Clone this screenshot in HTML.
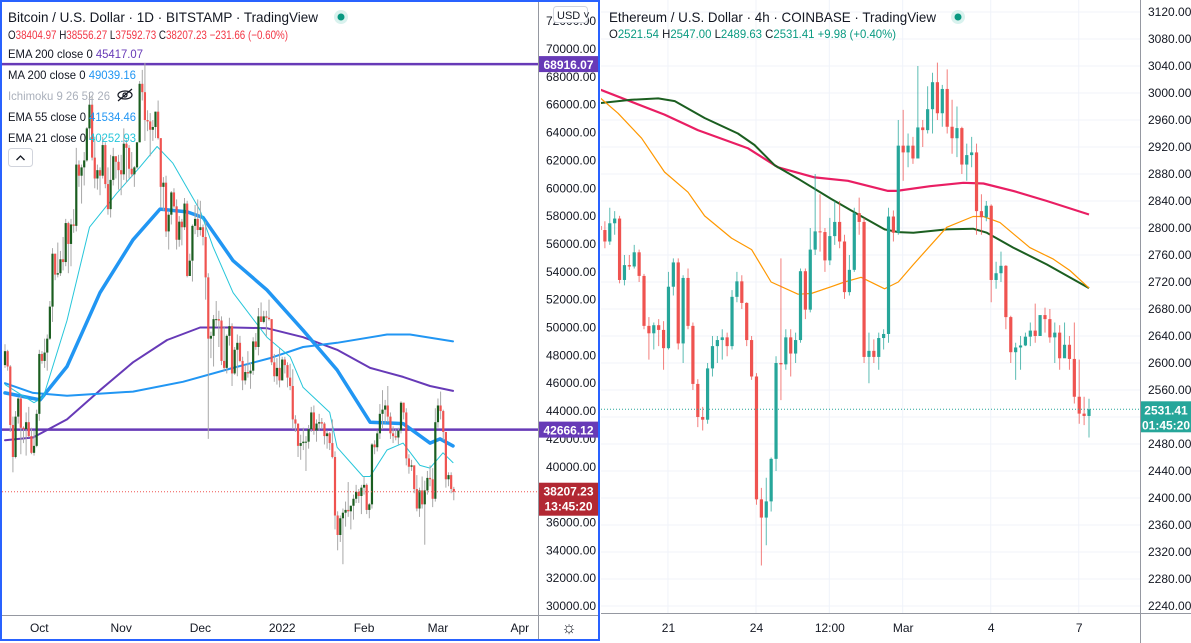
<!DOCTYPE html>
<html><head><meta charset="utf-8"><style>
html,body{margin:0;padding:0;background:#fff;width:1191px;height:643px;overflow:hidden}
svg{display:block;font-family:"Liberation Sans",sans-serif}
</style></head><body>
<svg id="root" width="1191" height="643" viewBox="0 0 1191 643" xmlns="http://www.w3.org/2000/svg">
<rect x="0" y="0" width="1191" height="643" fill="#fff"/>
<defs>
<clipPath id="clipL"><rect x="2" y="2" width="536" height="613"/></clipPath>
<clipPath id="clipR"><rect x="601" y="0" width="539" height="613"/></clipPath>
</defs>
<g id="gridR"></g>
<g id="plotL" clip-path="url(#clipL)"></g>
<g id="plotR" clip-path="url(#clipR)"></g>
<g id="axes"></g>

<g font-size="12">
<text x="8" y="22" font-size="14" fill="#131722" textLength="310" lengthAdjust="spacingAndGlyphs">Bitcoin / U.S. Dollar · 1D · BITSTAMP · TradingView</text>
<circle cx="341" cy="17" r="7" fill="#d9f2ee"/>
<circle cx="341" cy="17" r="3.5" fill="#089981"/>
<text x="8" y="39" font-size="12" fill="#f23645" textLength="280" lengthAdjust="spacingAndGlyphs"><tspan fill="#131722">O</tspan>38404.97 <tspan fill="#131722">H</tspan>38556.27 <tspan fill="#131722">L</tspan>37592.73 <tspan fill="#131722">C</tspan>38207.23 −231.66 (−0.60%)</text>
<text x="8" y="58" fill="#131722" textLength="135" lengthAdjust="spacingAndGlyphs">EMA 200 close 0 <tspan fill="#673ab7">45417.07</tspan></text>
<text x="8" y="79" fill="#131722" textLength="128" lengthAdjust="spacingAndGlyphs">MA 200 close 0 <tspan fill="#2196f3">49039.16</tspan></text>
<text x="8" y="100" fill="#aab0bb" textLength="102" lengthAdjust="spacingAndGlyphs">Ichimoku 9 26 52 26</text>
<g stroke="#131722" fill="none" stroke-width="1.2"><ellipse cx="125" cy="95" rx="7" ry="4"/><circle cx="125" cy="95" r="2"/><line x1="118" y1="101" x2="132" y2="89"/></g>
<text x="8" y="121" fill="#131722" textLength="128" lengthAdjust="spacingAndGlyphs">EMA 55 close 0 <tspan fill="#2196f3">41534.46</tspan></text>
<text x="8" y="142" fill="#131722" textLength="128" lengthAdjust="spacingAndGlyphs">EMA 21 close 0 <tspan fill="#26c6da">40252.93</tspan></text>
<rect x="8.5" y="148.5" width="24" height="18" rx="3" fill="#fff" stroke="#d1d4dc"/>
<path d="M16.5 160 L20.5 156 L24.5 160" stroke="#131722" fill="none" stroke-width="1.3"/>
</g>

<g>
<text x="609" y="22" font-size="14" fill="#131722" textLength="327" lengthAdjust="spacingAndGlyphs">Ethereum / U.S. Dollar · 4h · COINBASE · TradingView</text>
<circle cx="958" cy="17" r="7" fill="#d9f2ee"/>
<circle cx="958" cy="17" r="3.5" fill="#089981"/>
<text x="609" y="38" font-size="12" fill="#089981" textLength="287" lengthAdjust="spacingAndGlyphs"><tspan fill="#131722">O</tspan>2521.54 <tspan fill="#131722">H</tspan>2547.00 <tspan fill="#131722">L</tspan>2489.63 <tspan fill="#131722">C</tspan>2531.41 +9.98 (+0.40%)</text>
</g>

<rect x="1" y="1" width="598" height="639" fill="none" stroke="#2962ff" stroke-width="2"/>
</svg>
<script>
// ---------------- BTC data (thousands USD, daily, Sep 18 2021 .. Mar 7 2022) ----------------
const btcFirstOpen = 47.3;
const btcClose = [48.3,47.2,43.0,40.7,43.6,44.9,42.8,42.7,43.2,42.2,41.0,41.5,43.8,
48.1,47.6,48.2,49.2,51.5,55.3,53.8,53.9,54.9,54.7,57.5,56.0,57.4,57.3,61.7,60.9,61.5,62.0,64.3,66.0,62.2,60.7,61.3,60.9,63.1,60.3,58.5,60.6,62.3,61.9,61.3,
61.0,63.2,62.9,61.4,61.0,61.5,63.3,67.5,66.9,64.9,64.8,64.2,64.4,65.5,63.6,60.1,60.4,56.9,58.1,59.7,58.7,56.3,57.6,57.2,58.9,53.7,54.8,57.3,57.8,57.0,
57.2,56.5,53.6,49.2,49.4,50.6,50.6,50.5,47.6,47.1,49.4,50.1,46.7,48.4,48.9,47.6,46.2,46.8,46.7,46.9,49.0,48.6,50.8,50.4,50.8,50.7,50.6,47.5,46.5,47.1,46.2,
47.7,47.3,46.4,45.8,43.4,43.1,41.5,41.7,41.8,41.8,42.7,43.9,42.6,43.1,43.2,43.1,42.2,42.4,41.7,40.7,36.5,35.1,36.3,36.7,36.9,36.8,37.2,37.7,38.2,37.9,38.5,
38.7,36.9,37.3,41.6,41.4,42.4,43.8,44.1,44.4,43.6,42.4,42.2,42.1,42.6,44.6,43.9,40.6,40.0,40.1,38.4,37.0,38.3,37.3,38.3,39.2,39.1,37.7,43.2,
44.4,44.0,42.5,39.1,39.4,38.405,38.207];
const btcHigh = [48.8,48.4,47.3,43.6,44.0,45.0,45.1,42.9,43.9,44.3,42.8,42.6,44.1,
48.4,48.3,49.2,49.5,51.9,55.7,55.3,56.1,55.5,56.5,57.8,57.6,57.8,58.5,62.9,62.0,61.7,62.6,64.4,66.9,66.6,63.7,61.7,61.5,63.7,63.3,61.5,62.4,62.9,62.3,62.4,
62.4,64.3,63.5,63.1,62.6,61.6,63.3,67.7,68.5,69.0,65.6,65.4,64.9,65.5,66.3,63.5,60.8,60.9,58.3,59.8,60.0,59.2,58.0,57.8,59.3,59.1,55.3,57.4,58.8,59.2,
59.1,57.4,57.6,53.9,49.7,50.9,51.9,51.2,50.8,50.1,49.5,50.7,50.3,48.6,49.5,49.4,47.9,47.3,48.3,47.5,49.3,49.6,51.4,51.8,51.2,51.2,52.0,50.6,48.1,47.8,48.5,
47.9,47.9,47.5,47.4,47.0,43.7,43.1,42.3,42.8,42.2,43.0,44.3,44.4,43.4,43.8,43.5,43.2,42.6,42.5,43.4,41.1,36.8,36.5,37.0,37.5,38.9,37.2,38.0,38.7,38.4,38.7,
39.3,38.8,37.4,41.7,41.9,42.6,44.5,45.5,44.8,45.8,43.9,42.9,42.7,42.8,44.7,44.6,44.2,40.9,40.5,40.1,39.4,38.5,39.3,39.0,39.7,40.1,39.9,44.2,
44.9,45.4,44.1,42.5,39.6,39.6,38.556];
const btcLow = [47.1,46.9,42.5,39.6,40.6,43.1,40.9,41.7,40.8,42.1,40.9,40.8,41.4,
43.3,47.4,47.1,46.9,49.1,50.4,53.4,53.6,53.7,54.1,54.4,53.9,54.4,56.8,56.9,60.1,58.9,60.2,61.9,63.5,62.0,60.0,59.9,59.5,60.7,60.0,58.1,57.9,60.2,60.7,59.9,
59.5,60.6,60.4,60.7,60.8,60.1,61.4,63.3,66.3,63.4,64.1,62.3,63.4,63.6,63.5,58.6,58.4,56.5,55.6,57.4,58.6,55.6,55.8,55.9,57.0,53.6,53.7,53.3,56.7,56.5,
56.6,55.9,52.0,42.0,47.8,47.2,50.1,48.6,47.3,46.9,46.7,48.7,45.8,46.6,46.5,47.5,45.5,45.9,46.4,45.6,46.6,48.4,48.0,50.4,50.3,49.4,50.5,47.3,46.1,45.9,45.7,
46.2,46.7,45.7,45.5,42.7,42.5,40.7,40.5,41.2,39.7,41.3,42.5,42.3,41.8,42.6,42.7,41.6,41.3,41.2,40.6,35.5,34.0,34.6,33.0,35.7,36.4,35.5,36.2,37.4,37.4,36.6,
38.0,36.6,36.3,37.0,40.9,41.1,42.0,42.7,43.1,43.2,42.0,41.7,41.9,41.6,42.4,43.4,40.1,39.5,39.7,38.1,36.8,36.4,37.0,34.4,38.0,38.6,37.1,37.5,
42.8,43.4,41.9,38.5,38.6,38.1,37.593];
// indicator readings: [dayIndex, value in thousands]
const btcEma21 = [[0,45.9],[11,44.6],[14.5,45.0],[23.5,50.5],[32,57.2],[42.4,59.65],[51,61.5],[57.6,63.0],[63.6,61.8],[73.9,58.4],[78.8,55.8],[86.4,52.5],[99.2,49.3],[108,47.9],[112.9,45.7],[123,43.9],[125.8,41.4],[135.6,39.3],[138.3,39.3],[144.7,41.2],[150.8,41.7],[157.2,40.1],[161,39.9],[165.9,41.0],[169.7,40.3]];
const btcEma55 = [[0,45.3],[13.3,44.8],[23.5,47.2],[36,52.5],[48.5,56.3],[58.7,58.5],[69,58.3],[75,57.9],[86.4,54.8],[99.2,52.7],[112.9,49.8],[125.8,46.95],[138.3,43.2],[150.8,43.1],[161,41.7],[164.8,42.0],[169.7,41.5]];
const btcMa200 = [[0,46.0],[10.6,45.3],[23.5,45.1],[48.5,45.4],[67.4,46.1],[86.4,47.1],[100.4,47.8],[112.9,48.6],[125.8,48.9],[144.7,49.5],[153.4,49.5],[169.7,49.0]];
const btcEma200 = [[0,41.9],[10.6,42.1],[23.5,43.4],[36,45.5],[48.5,47.5],[61.4,49.1],[73.9,50.0],[86.4,50.0],[99.2,49.95],[112.9,49.3],[125.8,48.4],[138.3,47.1],[150.8,46.45],[161,45.8],[169.7,45.45]];
const btcTicks = [72000,70000,68000,66000,64000,62000,60000,58000,56000,54000,52000,50000,48000,46000,44000,42000,40000,38000,36000,34000,32000,30000];
const btcMonthLabels = ["Oct","Nov","Dec","2022","Feb","Mar","Apr"];
const btcMonthDays = [13,44,74,105,136,164,195];
const btcLines = [68916.07,42666.12];

// ---------------- ETH data (4h candles) ----------------
const ethFirstOpen = 2803;
const ethClose = [2797,2780,2807,2814,2723,2745,2743,2764,2729,2655,
2644,2656,2649,2622,2713,2749,2629,2726,2655,2569,
2520,2516,2592,2625,2634,2638,2625,2698,2721,2689,
2634,2580,2398,2371,2395,2458,2600,2598,2638,2614,
2634,2736,2679,2768,2795,2794,2752,2788,2809,2780,
2705,2738,2822,2809,2609,2618,2609,2637,2643,2817,
2793,2922,2912,2922,2903,2949,2945,2976,3016,2970,
3006,2950,2933,2948,2894,2908,2912,2825,2816,2833,
2723,2733,2744,2668,2616,2623,2626,2639,2648,2640,
2671,2665,2638,2645,2607,2627,2606,2550,2525,2521.54,2531.41];
const ethHigh = [2835,2810,2830,2825,2818,2760,2760,2775,2768,2732,
2668,2660,2665,2662,2735,2755,2755,2730,2740,2660,
2576,2535,2600,2640,2640,2650,2645,2708,2735,2730,
2690,2640,2585,2415,2430,2460,2610,2755,2650,2650,
2645,2740,2740,2800,2880,2850,2800,2815,2840,2840,
2790,2760,2830,2845,2815,2645,2635,2645,2650,2830,
2826,2960,2975,2940,2935,3040,2960,3010,3030,3045,
3012,3035,2990,2980,2950,2925,2935,2925,2850,2840,
2835,2750,2765,2745,2670,2630,2640,2645,2660,2688,
2662,2682,2680,2660,2656,2660,2640,2660,2605,2550,2547];
const ethLow = [2760,2770,2775,2790,2718,2715,2738,2740,2720,2650,
2605,2620,2625,2590,2620,2700,2620,2600,2650,2560,
2505,2500,2510,2580,2600,2605,2610,2620,2690,2680,
2625,2575,2390,2300,2330,2380,2440,2545,2590,2580,
2600,2630,2665,2675,2760,2765,2735,2745,2775,2770,
2695,2700,2735,2790,2600,2570,2600,2590,2620,2630,
2780,2790,2870,2890,2895,2905,2920,2940,2940,2960,
2950,2940,2910,2905,2880,2870,2890,2790,2790,2810,
2690,2710,2720,2650,2600,2575,2590,2625,2625,2630,
2640,2645,2630,2600,2590,2610,2590,2540,2510,2508,2489.63];
const ethMaFast = [[0,2993],[3.7,2970],[8.5,2933],[13.2,2883],[18,2853],[21.4,2818],[26.9,2785],[31,2768],[35,2720],[40.5,2702],[43.2,2703],[47.3,2713],[50,2720],[53.4,2727],[58.2,2710],[61,2720],[64.1,2746],[70.9,2801],[76.3,2817],[78.4,2817],[81.8,2808],[87.9,2771],[92.7,2754],[96.1,2737],[100,2711]];
const ethMaMid = [[0,2985],[6.4,2990],[11.9,2992],[15.3,2988],[21.4,2963],[28.2,2940],[31.6,2923],[35.7,2893],[40.5,2873],[47.3,2843],[52.8,2820],[58.2,2798],[61,2794],[64.1,2793],[70.9,2798],[76.3,2799],[79.1,2793],[84.5,2771],[91.4,2746],[100,2711]];
const ethMaSlow = [[0,3005],[13.2,2968],[20,2945],[30.3,2918],[36.4,2890],[43.9,2875],[50.7,2870],[58.9,2855],[60.7,2855],[67.5,2862],[74.3,2867],[78.4,2866],[84.5,2855],[91.4,2840],[100,2820]];
const ethTicks = [3120,3080,3040,3000,2960,2920,2880,2840,2800,2760,2720,2680,2640,2600,2560,2520,2480,2440,2400,2360,2320,2280,2240];
const ethTimeLabels = ["21","24","12:00","Mar","4","7"];
const ethTimeIdx = [14,32,47,62,80,98];

// ---------------- scales ----------------
const yL = p => 49 + (70000 - p) * 0.013925;
const xL = i => 5 + i * 2.64;
const yR = p => 12 + (3120 - p) * 0.675;
const xR = i => 600 + i * 4.89;
const NS = "http://www.w3.org/2000/svg";
function mk(tag, attrs, parent){ const e=document.createElementNS(NS,tag); for(const k in attrs) e.setAttribute(k,attrs[k]); parent.appendChild(e); return e; }
const plotL=document.getElementById('plotL'), plotR=document.getElementById('plotR'), axes=document.getElementById('axes'), gridR=document.getElementById('gridR');

// ---- ETH grid ----
ethTicks.forEach(t=>{ const g=mk('line',{x1:601,x2:1140,y1:yR(t),y2:yR(t),stroke:'#f0f3fa','stroke-width':1},gridR);

 });
ethTimeIdx.forEach(i=>{ const g=mk('line',{x1:xR(i)-0.5,x2:xR(i)-0.5,y1:0,y2:613,stroke:'#f0f3fa','stroke-width':1},gridR);

 });

// ---- BTC horizontal lines ----
btcLines.forEach(v=>{ const l=mk('line',{x1:2,x2:538,y1:yL(v),y2:yL(v),stroke:'#673ab7','stroke-width':2.5},plotL);

 });

function polyFrom(pts, xf, yf, scale){ return pts.map(p=>xf(p[0]).toFixed(1)+','+yf(p[1]*scale).toFixed(1)).join(' '); }
// ---- BTC MAs ----
[[btcEma200,'#673ab7',2,'btc-ema200-line'],[btcMa200,'#2196f3',2,'btc-ma200-line'],[btcEma55,'#2196f3',3.5,'btc-ema55-line'],[btcEma21,'#26c6da',1,'btc-ema21-line']].forEach(s=>{
 const pl=mk('polyline',{points:polyFrom(s[0],xL,yL,1000),fill:'none',stroke:s[1],'stroke-width':s[2],'stroke-linejoin':'round','stroke-linecap':'round'},plotL);
 
 
});

// ---- BTC candles ----
btcClose.forEach((c,i)=>{
 const o = i===0 ? btcFirstOpen : btcClose[i-1];
 const h=btcHigh[i]*1000, l=btcLow[i]*1000, oo=o*1000, cc=c*1000;
 const up=cc>=oo, col=up?'#1b5e20':'#ef5350';
 const x=xL(i);
 const w=mk('line',{x1:x,x2:x,y1:yL(h),y2:yL(l),stroke:'#a8a8a8','stroke-width':1},plotL);
 
 
 const top=yL(Math.max(oo,cc)), bh=Math.max(1,Math.abs(yL(oo)-yL(cc)));
 const b=mk('rect',{x:x-1.1,y:top,width:2.2,height:bh,fill:col},plotL);
 
 
});
// current price dotted
const dl=mk('line',{x1:2,x2:538,y1:yL(38207.23),y2:yL(38207.23),stroke:'#ef5350','stroke-width':1,'stroke-dasharray':'1,2'},plotL);



// ---- ETH MAs ----
[[ethMaSlow,'#e91e63',2.2,'eth-slow-ma-line'],[ethMaMid,'#1b5e20',2,'eth-mid-ma-line'],[ethMaFast,'#ff9800',1.2,'eth-fast-ma-line']].forEach(s=>{
 const pl=mk('polyline',{points:polyFrom(s[0],xR,yR,1),fill:'none',stroke:s[1],'stroke-width':s[2],'stroke-linejoin':'round'},plotR);
 
 
});
// ---- ETH candles ----
ethClose.forEach((c,i)=>{
 const o = i===0 ? ethFirstOpen : ethClose[i-1];
 const up=c>=o, col=up?'#26a69a':'#ef5350';
 const x=xR(i);
 const w=mk('line',{x1:x,x2:x,y1:yR(ethHigh[i]),y2:yR(ethLow[i]),stroke:col,'stroke-width':1,'stroke-opacity':0.75},plotR);
 
 
 const top=yR(Math.max(o,c)), bh=Math.max(1,Math.abs(yR(o)-yR(c)));
 const b=mk('rect',{x:x-1.6,y:top,width:3.2,height:bh,fill:col},plotR);
 
 
});
const dr=mk('line',{x1:601,x2:1140,y1:yR(2531.41),y2:yR(2531.41),stroke:'#26a69a','stroke-width':1,'stroke-dasharray':'1,2'},plotR);



// ---- axes ----
function ln(x1,y1,x2,y2,c){ const e=mk('line',{x1,y1,x2,y2,stroke:c,'stroke-width':1},axes); return e; }
let a=ln(538.5,2,538.5,640,'#9598a1');  
a=ln(2,615.5,598,615.5,'#9598a1');  
a=ln(1140.5,0,1140.5,643,'#9598a1');  
a=ln(601,613.5,1191,613.5,'#9598a1');  
function txt(x,y,s,attrs){ const t=mk('text',Object.assign({x,y,'font-size':12,fill:'#131722'},attrs||{}),axes); t.textContent=s; return t; }
btcTicks.forEach(t=>{ const e=txt(546,yL(t)+4,t.toFixed(2));
 
  });
btcMonthLabels.forEach((m,k)=>{ const e=txt(xL(btcMonthDays[k]),632,m,{'text-anchor':'middle'});
 
  });
// USD button
let u=mk('rect',{x:553.5,y:6.5,width:34,height:16,rx:3,fill:'#fff',stroke:'#d1d4dc'},axes);


u=txt(557,19,'USD ˅',{'font-size':11});


// price labels
function tag(y,h,bg,lines,x0,w,name){ const r=mk('rect',{x:x0,y:y,width:w,height:h,fill:bg},axes);
 
 
 lines.forEach((s,k)=>{ const t=txt(x0+w/2,y+13+k*15,s,{fill:'#fff','text-anchor':'middle','font-weight':'bold','font-size':12});
  
   }); }
tag(yL(68916.07)-8,16,'#673ab7',['68916.07'],539,59,'btc-level-68916-label');
tag(yL(42666.12)-8,16,'#673ab7',['42666.12'],539,59,'btc-level-42666-label');
tag(yL(38207.23)-9,33,'#b22833',['38207.23','13:45:20'],539,59,'btc-last-price-label');
const gear=txt(569,633,'☼',{'text-anchor':'middle','font-size':17});



ethTicks.forEach(t=>{ const e=txt(1148,yR(t)+4,t.toFixed(2));
 
  });
ethTimeLabels.forEach((m,k)=>{ const e=txt(xR(ethTimeIdx[k]),632,m,{'text-anchor':'middle'});
 
  });
tag(yR(2531.41)-8,31,'#26a69a',['2531.41','01:45:20'],1141,50,'eth-last-price-label');
</script>
</body></html>
